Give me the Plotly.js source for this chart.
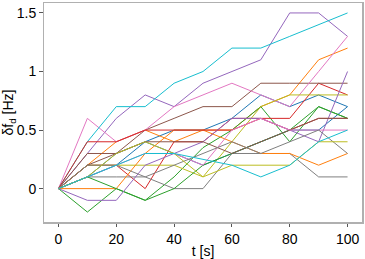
<!DOCTYPE html>
<html>
<head>
<meta charset="utf-8">
<script src="https://cdn.plot.ly/plotly-3.0.1.min.js"></script>
<style>html,body{margin:0;padding:0;background:#fff;}#chart{width:365px;height:259px;}</style>
</head>
<body>
<div id="chart"></div>
<script>
const t = [0, 10, 20, 30, 40, 50, 60, 70, 80, 90, 100];
const blueA   = [0, 0.1, 0.2, 0.4, 0.5, 0.5, 0.6, 0.8, 0.7, 0.8, 0.7];
const orangeA = [0, 0.2, 0.4, 0.5, 0.4, 0.5, 0.5, 0.7, 0.8, 1.1, 1.2];
const greenA  = [0, -0.2, 0.0, -0.1, 0.1, 0.35, 0.5, 0.7, 0.4, 0.7, 0.6];
const redA    = [0, 0.2, 0.2, 0.0, 0.4, 0.4, 0.6, 0.6, 0.6, 0.9, 0.8];
const purpleA = [0, 0.3, 0.6, 0.8, 0.7, 0.9, 1.0, 1.1, 1.5, 1.5, 1.3];
const brownA  = [0, 0.3, 0.3, 0.5, 0.6, 0.7, 0.7, 0.9, 0.9, 0.9, 0.9];
const pinkA   = [0, 0.6, 0.4, 0.5, 0.7, 0.8, 0.9, 0.8, 0.7, 1.0, 1.3];
const grayA   = [0, 0.1, 0.1, 0.1, 0.0, 0.0, 0.3, 0.3, 0.3, 0.1, 0.1];
const oliveA  = [0, 0.2, 0.2, 0.2, 0.2, 0.1, 0.4, 0.7, 0.8, 0.8, 0.8];
const cyanA   = [0, 0.4, 0.7, 0.7, 0.9, 1.0, 1.2, 1.2, 1.3, 1.4, 1.5];
const blueB   = [0, 0.1, 0.3, 0.4, 0.3, 0.2, 0.3, 0.4, 0.5, 0.5, 0.7];
const orangeB = [0, 0.0, 0.0, 0.3, 0.5, 0.5, 0.4, 0.3, 0.3, 0.2, 0.3];
const greenB  = [0, 0.1, 0.0, -0.1, 0.0, 0.2, 0.3, 0.4, 0.5, 0.7, 0.6];
const redB    = [0, 0.4, 0.4, 0.5, 0.5, 0.5, 0.5, 0.6, 0.5, 0.6, 0.6];
const purpleB = [0, -0.1, -0.1, 0.2, 0.3, 0.4, 0.6, 0.6, 0.5, 0.4, 1.0];
const brownB  = [0, 0.2, 0.3, 0.4, 0.4, 0.4, 0.3, 0.4, 0.5, 0.6, 0.6];
const pinkB   = [0, 0.1, 0.2, 0.3, 0.3, 0.2, 0.5, 0.6, 0.5, 0.5, 0.5];
const grayB   = [0, 0.2, 0.2, 0.1, 0.2, 0.3, 0.4, 0.3, 0.4, 0.5, 0.3];
const oliveB  = [0, 0.1, 0.3, 0.4, 0.3, 0.1, 0.2, 0.2, 0.2, 0.4, 0.4];
const cyanB   = [0, 0.1, 0.2, 0.3, 0.3, 0.25, 0.2, 0.1, 0.2, 0.4, 0.5];

const series = [blueA, orangeA, greenA, redA, purpleA, brownA, pinkA, grayA, oliveA, cyanA,
                blueB, orangeB, greenB, redB, purpleB, brownB, pinkB, grayB, oliveB, cyanB];
const colors = ['#1f77b4','#ff7f0e','#2ca02c','#d62728','#9467bd','#8c564b','#e377c2','#7f7f7f','#bcbd22','#17becf'];
const xTicks = [0, 20, 40, 60, 80, 100];
const yTicks = [0, 0.5, 1, 1.5];
const yTickText = ['0', '0.5', '1', '1.5'];

const traces = series.map((y, i) => ({
  x: t, y: y, type: 'scatter', mode: 'lines',
  line: {color: colors[i % 10], width: 1},
  hoverinfo: 'skip', showlegend: false
}));

const fontFam = 'Liberation Sans, Arial, sans-serif';
const axisCommon = {
  showgrid: false, zeroline: false, showline: true, mirror: true,
  linecolor: '#b0b0b0', linewidth: 1.5,
  ticks: 'outside', ticklen: 3.5, tickcolor: '#555', tickwidth: 1,
  tickfont: {family: fontFam, size: 14, color: '#000'}
};

const layout = {
  width: 365, height: 259,
  margin: {l: 44, r: 3, t: 3, b: 37},
  paper_bgcolor: '#fff', plot_bgcolor: '#fff',
  xaxis: Object.assign({}, axisCommon, {
    range: [-5, 105], tickvals: xTicks,
    title: {text: 't [s]', font: {family: fontFam, size: 14, color: '#000'}, standoff: 0}
  }),
  yaxis: Object.assign({}, axisCommon, {
    range: [-0.285, 1.585], tickvals: yTicks, ticktext: yTickText,
    title: {text: 'δf<sub>d</sub> [Hz]', font: {family: fontFam, size: 14, color: '#000'}, standoff: 3}
  })
};

Plotly.newPlot('chart', traces, layout, {staticPlot: true, displayModeBar: false});
</script>
</body>
</html>
